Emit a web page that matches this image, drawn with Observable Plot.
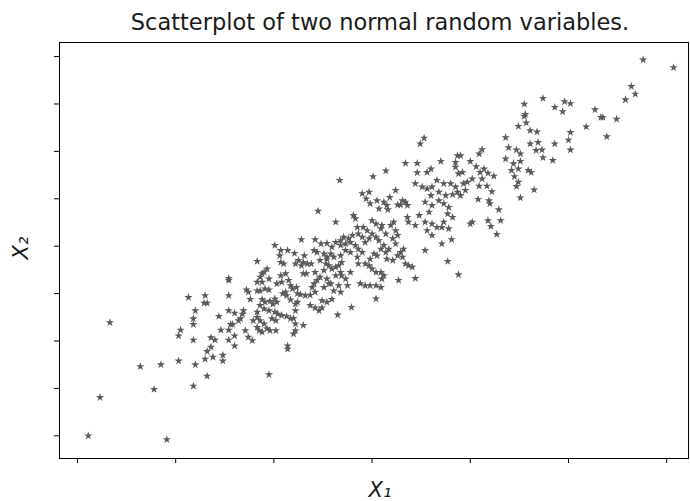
<!DOCTYPE html>
<html><head><meta charset="utf-8">
<script src="https://cdn.jsdelivr.net/npm/d3@7"></script>
<script src="https://cdn.jsdelivr.net/npm/@observablehq/plot@0.6"></script>
<style>html,body{margin:0;padding:0;background:#fff} svg{display:block}</style>
</head><body><div id="chart"></div>
<script>
const title = "Scatterplot of two normal random variables.";
const xLabel = "X₁";
const yLabel = "X₂";
const xTicks = [-3, -2, -1, 0, 1, 2, 3];
const yTicks = [-4, -3, -2, -1, 0, 1, 2, 3, 4];

const x1 = [
-2.67,-2.77,-2.89,-2.36,-2.15,-2.22,-2.09,-1.97,-1.97,-1.95,
-1.87,-1.70,-1.71,-1.68,-1.80,-1.82,-1.82,-1.82,-1.80,-1.82,
-1.68,-1.70,-1.68,-1.64,-1.62,-1.64,-1.60,-1.52,-1.52,-1.46,
-1.54,-1.46,-1.44,-1.42,-1.56,-1.46,-1.40,-1.46,-1.40,-1.40,-1.46,
-0.72,-0.58,-0.99,-0.52,-0.46,-0.93,-0.86,-0.79,-0.94,-0.69,
-0.59,-0.56,-0.49,-0.46,-0.53,-0.47,-0.75,-0.70,-0.78,-0.72,
-0.66,-0.62,-0.93,-0.90,-1.17,-1.07,-1.10,-1.12,-1.14,-1.05,
-1.17,-1.12,-0.88,-0.93,-0.97,-0.92,-0.85,-0.83,-0.81,-0.77,
-0.70,-0.67,-0.58,-0.49,-0.53,-0.46,-0.42,-0.56,-0.59,-0.61,
-0.58,-0.49,-1.46,-1.28,-1.26,-1.17,-1.14,-1.09,-1.05,-0.87,
-0.91,-0.88,-0.83,-0.76,-0.73,-0.68,-0.63,-1.24,-1.12,-1.09,
-1.04,-0.99,-1.01,-0.97,-1.14,-1.10,-1.05,-0.99,-0.96,-0.92,
-0.87,-0.83,-0.80,-0.78,-0.76,-0.78,-0.63,-0.58,-0.54,-0.51,
-0.46,-0.51,-1.02,-0.98,-1.17,-1.17,-1.21,-1.14,-1.10,-1.07,
-1.04,-0.98,-1.17,-1.15,-1.12,-1.31,-1.32,-1.34,-1.36,-1.29,
-1.26,-1.22,-0.78,-0.78,-0.70,-0.80,-0.86,-0.86,-1.05,-0.55,
-0.33,0.01,0.24,-0.10,-0.03,-0.06,-0.02,0.05,0.07,0.12,
0.15,0.16,0.18,0.26,0.29,0.34,0.36,0.31,0.44,0.51,
0.56,0.61,0.60,0.54,0.61,0.58,0.36,0.37,0.44,0.48,
0.54,0.61,0.56,0.61,-0.37,-0.19,-0.17,-0.15,-0.09,-0.05,
0.00,0.04,0.09,0.10,0.14,0.19,0.22,0.24,0.26,0.21,
0.24,0.17,0.12,0.07,0.04,0.00,-0.03,-0.07,-0.10,-0.14,
-0.20,-0.24,-0.29,-0.32,-0.37,-0.41,-0.42,-0.46,-0.39,-0.32,
-0.27,-0.22,-0.17,-0.14,-0.10,-0.15,-0.22,-0.27,-0.32,-0.31,
-0.34,-0.37,-0.41,-0.44,-0.32,-0.31,-0.37,-0.22,-0.27,-0.14,
-0.07,-0.02,0.02,0.05,0.09,0.14,0.15,0.21,0.26,0.31,
0.34,0.37,0.41,0.29,0.32,-0.03,0.00,0.04,0.09,0.12,
0.10,0.27,0.44,0.54,-0.44,-0.34,-0.25,-0.12,-0.07,-0.02,
0.04,0.09,-0.39,-0.32,0.04,-0.41,-0.35,-0.21,
1.49,1.57,1.61,1.68,1.36,1.61,1.69,1.67,1.39,1.47,
1.51,1.36,1.44,1.51,1.42,1.49,1.59,1.62,1.45,1.49,
1.47,1.65,1.51,1.12,1.09,0.87,0.90,0.70,0.85,1.00,
0.85,1.06,1.14,1.18,1.24,1.10,0.88,0.92,0.60,0.66,
0.73,0.80,0.85,0.93,0.97,1.02,1.12,1.09,1.17,1.22,
0.95,0.90,0.87,0.82,0.75,0.68,0.68,0.73,0.78,0.77,
0.82,0.73,0.66,0.71,0.78,0.71,0.81,1.00,1.02,1.08,
1.19,1.20,1.29,1.18,1.21,1.31,1.27,0.77,0.88,
2.76,3.07,2.64,2.68,2.58,1.74,1.86,1.94,1.96,2.02,
2.27,2.33,2.35,2.49,2.18,2.39,2.02,2.00,1.86,2.02,
1.73,1.74,1.84,
1.55,1.56,1.55,0.53,0.49,0.34,0.46,0.14,0.46,0.56
];

const x2 = [
-1.61,-3.19,-4.00,-2.54,-2.50,-3.02,-4.08,-2.42,-1.89,-1.77,
-1.08,-1.04,-1.20,-1.20,-1.36,-1.53,-1.65,-1.98,-2.50,-2.95,
-2.74,-2.38,-2.22,-2.13,-2.34,-1.93,-1.98,-2.30,-2.42,-1.98,
-1.77,-1.77,-1.65,-1.65,-1.48,-1.36,-1.41,-1.04,-2.10,-1.89,-0.72,
0.14,0.14,0.02,0.05,0.06,-0.09,-0.09,-0.15,-0.20,-0.20,
-0.09,-0.13,-0.16,-0.23,-0.30,-0.37,-0.30,-0.34,-0.37,-0.41,
-0.37,-0.37,-0.34,-0.37,-0.32,-0.48,-0.55,-0.58,-0.65,-0.69,
-0.76,-0.76,-0.58,-0.62,-0.79,-0.76,-0.72,-0.83,-0.90,-0.87,
-0.58,-0.58,-0.55,-0.51,-0.65,-0.69,-0.79,-0.72,-0.79,-0.87,
-0.97,-0.87,-0.68,-0.92,-0.97,-0.94,-0.94,-0.90,-0.92,-1.04,
-1.00,-0.97,-1.13,-1.00,-1.02,-1.04,-1.03,-1.12,-1.12,-1.18,
-1.16,-1.11,-1.22,-1.18,-1.25,-1.32,-1.36,-1.39,-1.43,-1.46,
-1.48,-1.53,-1.52,-1.36,-1.18,-1.22,-1.25,-1.30,-1.36,-1.30,
-1.18,-1.15,-1.53,-1.57,-1.39,-1.50,-1.57,-1.57,-1.64,-1.74,
-1.78,-1.78,-1.71,-1.78,-1.81,-1.36,-1.43,-1.53,-1.57,-1.78,
-1.92,-1.99,-1.64,-1.78,-1.67,-1.85,-2.10,-2.17,-2.71,0.74,
1.39,1.47,1.18,1.11,1.14,1.00,0.90,0.96,0.79,0.93,
0.86,0.77,1.03,0.87,0.87,0.93,0.86,0.96,1.32,1.25,
1.21,1.25,1.07,0.93,0.86,0.72,0.61,0.51,0.44,0.65,
0.51,0.47,0.33,0.23,0.51,0.65,0.58,0.40,0.40,0.33,
0.54,0.47,0.37,0.44,0.26,0.44,0.51,0.33,0.23,0.16,
0.05,-0.06,0.02,0.12,0.19,0.26,0.16,0.08,0.19,0.26,
0.23,0.16,0.19,0.12,0.08,-0.02,-0.16,-0.27,-0.23,0.02,
0.05,0.08,0.02,-0.06,-0.13,-0.23,-0.13,-0.09,-0.20,-0.34,
-0.41,-0.44,-0.48,-0.41,-0.55,-0.62,-0.62,-0.55,-0.69,-0.37,
-0.37,-0.27,-0.16,-0.20,-0.06,-0.13,-0.27,-0.30,-0.20,-0.23,
-0.37,-0.41,-0.44,-0.13,-0.06,-0.41,-0.48,-0.55,-0.55,-0.62,
-0.69,-0.72,-0.68,-0.09,-0.79,-0.83,-0.83,-0.79,-0.83,-0.83,
-0.83,-0.87,-0.94,-0.97,-1.11,-1.12,-1.45,-1.29,
2.53,2.60,2.44,2.41,2.29,2.16,2.19,2.02,2.08,2.03,
1.95,1.84,1.74,1.79,1.60,1.63,1.60,1.56,1.47,1.35,
1.26,1.19,1.02,2.04,1.95,1.91,1.91,1.79,1.77,1.79,
1.67,1.68,1.63,1.54,1.48,1.56,1.53,1.56,1.63,1.39,
1.32,1.32,1.25,1.32,1.35,1.42,1.42,1.27,1.27,1.15,
1.18,1.07,1.14,1.09,1.07,1.14,0.96,0.90,0.82,0.68,
0.61,0.51,0.40,0.40,0.37,0.05,0.14,0.47,0.51,0.99,
0.96,0.90,0.77,0.54,0.42,0.54,0.25,-0.32,-0.60,
3.93,3.77,3.37,3.21,3.09,3.12,2.93,2.84,3.05,3.01,
2.88,2.72,2.72,2.68,2.52,2.31,2.40,2.24,2.16,2.03,
2.03,1.87,1.81,
3.00,2.78,2.74,2.28,2.16,1.75,1.75,1.59,1.55,1.56
];

const n = Math.min(x1.length, x2.length);
const points = d3.range(n).map(i => ({x1: x1[i], x2: x2[i]}));

const chart = Plot.plot({
  width: 690,
  height: 501,
  marginLeft: 59,
  marginRight: 2,
  marginTop: 42,
  marginBottom: 43,
  style: {fontFamily: "DejaVu Sans", background: "#fff", color: "#000"},
  x: {domain: [-3.183, 3.222], axis: null},
  y: {domain: [-4.479, 4.297], axis: null},
  marks: [
    Plot.axisX(xTicks, {anchor: "bottom", tickSize: 5, text: null, label: null, stroke: "#000", strokeWidth: 1}),
    Plot.axisY(yTicks, {anchor: "left", tickSize: 5, text: null, label: null, stroke: "#000", strokeWidth: 1}),
    Plot.dot(points, {x: "x1", y: "x2", symbol: "star", r: 2.6, fill: "#5a5a5a", stroke: "none"}),
    Plot.frame({stroke: "#000", strokeWidth: 1}),
    Plot.text([title], {frameAnchor: "top", dx: 6, dy: -20, fontSize: 22.5, fill: "#1a1a1a", lineAnchor: "middle"}),
    Plot.text([xLabel], {frameAnchor: "bottom", dx: 6, dy: 32, fontSize: 21, fontStyle: "italic", fill: "#1a1a1a", lineAnchor: "middle"}),
    Plot.text([yLabel], {frameAnchor: "left", dx: -38, dy: 9, rotate: -90, fontSize: 21, fontStyle: "italic", fill: "#1a1a1a", lineAnchor: "middle"})
  ]
});
document.getElementById("chart").appendChild(chart);
</script>
</body></html>
